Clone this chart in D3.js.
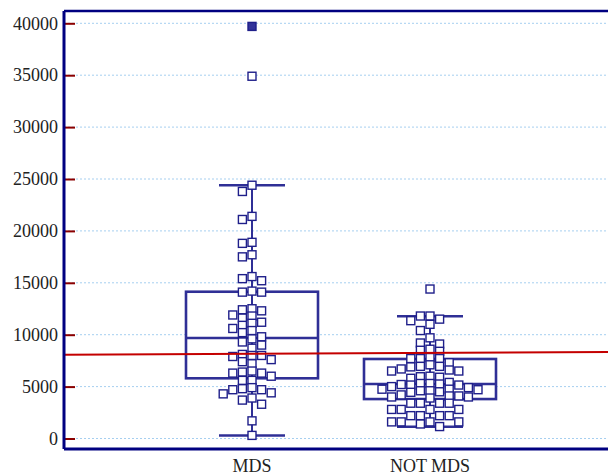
<!DOCTYPE html>
<html>
<head>
<meta charset="utf-8">
<script src="https://cdn.jsdelivr.net/npm/d3@7"></script>
<style>
  body { margin: 0; background: #fff; }
</style>
</head>
<body>
<div id="chart"></div>
<script>
// categories and values
var categories = ["MDS", "NOT MDS"];

var mdsValues = [39700, 34900, 24400, 23800, 21400, 21100, 18900, 18800, 17700, 17500,
  15600, 15400, 15200, 14200, 14100, 14100, 12500, 12400, 12300, 11900, 11800, 11600,
  11200, 11100, 10900, 10600, 10400, 10200, 9800, 9600, 9300, 9000, 8700, 8100, 8000,
  8000, 7900, 7600, 7400, 7200, 6500, 6400, 6300, 6300, 6000, 5600, 5600, 4900, 4800,
  4700, 4700, 4400, 4300, 3900, 3700, 3300, 1700, 300];

var notMdsValues = [14400, 11800, 11800, 11500, 11350, 11000, 10400, 9700, 9200, 9100,
  8600, 8500, 8400, 7800, 7700, 7700, 7700, 7300, 7100, 6950, 6950, 6900, 6700, 6600,
  6500, 6500, 6000, 5950, 5900, 5800, 5400, 5300, 5300, 5250, 5200, 5150, 5150, 5000,
  4900, 4750, 4750, 4700, 4600, 4600, 4500, 4450, 4200, 4100, 4100, 4000, 4000, 3900,
  3400, 3400, 3400, 3400, 2800, 2800, 2800, 2800, 2200, 2200, 2200, 2200, 1600, 1600,
  1600, 1600, 1400, 1150];

// box statistics: [low whisker, Q1, median, Q3, high whisker]
var mdsBox = [300, 5800, 9680, 14140, 24400];
var notMdsBox = [1140, 3800, 5250, 7660, 11770];

// reference line value at left and right edge
var refLine = [8060, 8340];

var yTicks = [0, 5000, 10000, 15000, 20000, 25000, 30000, 35000, 40000];

var series = [
  {name: categories[0], values: mdsValues, box: mdsBox},
  {name: categories[1], values: notMdsValues, box: notMdsBox}
];

// dimensions
var width = 608, height = 476;
var plotLeft = 64, plotRight = 608, plotTop = 11, plotBottom = 449;
var serif = "'Liberation Serif', 'Times New Roman', Times, 'DejaVu Serif', serif";

var svg = d3.select("#chart")
  .append("svg")
    .attr("width", width)
    .attr("height", height)
    .attr("font-family", serif);

var y = d3.scaleLinear()
  .domain([0, 40000])
  .range([438.5, 23.3]);

var x = d3.scalePoint()
  .domain(categories)
  .range([252, 430]);

var boxWidth = 132, capWidth = 66, sq = 8;
var blue = "#2f2f96";

// grid lines
svg.append("g")
  .selectAll("line")
  .data(yTicks)
  .enter()
  .append("line")
    .attr("x1", plotLeft)
    .attr("x2", plotRight)
    .attr("y1", function (d) { return y(d); })
    .attr("y2", function (d) { return y(d); })
    .style("stroke", "#a6cff0")
    .style("stroke-width", 1)
    .style("stroke-dasharray", "2,2");

// boxes and whiskers
var groups = svg.selectAll(".cat")
  .data(series)
  .enter()
  .append("g")
    .attr("class", "cat")
    .attr("transform", function (d) { return "translate(" + x(d.name) + ",0)"; });

groups.append("rect")
  .attr("x", -boxWidth / 2)
  .attr("width", boxWidth)
  .attr("y", function (d) { return y(d.box[3]); })
  .attr("height", function (d) { return y(d.box[1]) - y(d.box[3]); })
  .style("fill", "white")
  .style("stroke", blue)
  .style("stroke-width", 2.6);

groups.append("line")
  .attr("x1", -boxWidth / 2).attr("x2", boxWidth / 2)
  .attr("y1", function (d) { return y(d.box[2]); })
  .attr("y2", function (d) { return y(d.box[2]); })
  .style("stroke", blue)
  .style("stroke-width", 2.6);

// whisker stem through the whole range
groups.append("line")
  .attr("x1", 0).attr("x2", 0)
  .attr("y1", function (d) { return y(d.box[4]); })
  .attr("y2", function (d) { return y(d.box[0]); })
  .style("stroke", blue)
  .style("stroke-width", 2);

groups.selectAll(".cap")
  .data(function (d) { return [d.box[0], d.box[4]]; })
  .enter()
  .append("line")
    .attr("x1", -capWidth / 2).attr("x2", capWidth / 2)
    .attr("y1", function (d) { return y(d); })
    .attr("y2", function (d) { return y(d); })
    .style("stroke", blue)
    .style("stroke-width", 2.5);

// simple beeswarm so squares don't sit right on top of each other
function swarm(values) {
  var placed = [];
  values.slice().sort(function (a, b) { return b - a; }).forEach(function (v) {
    var py = y(v), off = 0;
    for (var k = 0; k < 60; k++) {
      var cand = k === 0 ? 0 : (k % 2 ? -1 : 1) * Math.ceil(k / 2) * 4.8;
      var ok = placed.every(function (q) {
        return Math.abs(q.y - py) >= 6.5 || Math.abs(q.x - cand) >= 9.4;
      });
      if (ok) { off = cand; break; }
    }
    placed.push({v: v, x: off, y: py});
  });
  return placed;
}

groups.each(function (d) {
  var iqr = d.box[3] - d.box[1];
  d3.select(this).selectAll(".pt")
    .data(swarm(d.values))
    .enter()
    .append("rect")
      .attr("class", "pt")
      .attr("x", function (p) { return p.x - sq / 2; })
      .attr("y", function (p) { return p.y - sq / 2; })
      .attr("width", sq)
      .attr("height", sq)
      .style("fill", function (p) { return p.v > d.box[3] + 3 * iqr ? "#33339a" : "white"; })
      .style("stroke", "#1f1f8a")
      .style("stroke-width", 1.4);
});

// red reference line
svg.append("line")
  .attr("x1", plotLeft).attr("x2", plotRight)
  .attr("y1", y(refLine[0]))
  .attr("y2", y(refLine[1]))
  .style("stroke", "#c40000")
  .style("stroke-width", 2);

// Y axis with inward red ticks
var yAxis = svg.append("g")
  .attr("transform", "translate(" + plotLeft + ",0)")
  .call(d3.axisLeft(y).tickValues(yTicks).tickSize(-11).tickPadding(6).tickFormat(d3.format("d")));
yAxis.attr("font-family", serif).attr("font-size", 18);
yAxis.select(".domain").remove();
yAxis.selectAll(".tick line").style("stroke", "#8b0000").style("stroke-width", 2);
yAxis.selectAll(".tick text").attr("fill", "#222");

// frame: left, bottom, top
svg.append("line")
  .attr("x1", plotLeft).attr("x2", plotLeft)
  .attr("y1", plotTop).attr("y2", plotBottom)
  .style("stroke", "#000080").style("stroke-width", 3);
svg.append("line")
  .attr("x1", plotLeft).attr("x2", plotRight)
  .attr("y1", plotBottom).attr("y2", plotBottom)
  .style("stroke", "#000080").style("stroke-width", 3);
svg.append("line")
  .attr("x1", plotLeft).attr("x2", plotRight)
  .attr("y1", plotTop).attr("y2", plotTop)
  .style("stroke", "#000080").style("stroke-width", 2.5);

// category labels
svg.append("g")
  .selectAll("text")
  .data(categories)
  .enter()
  .append("text")
    .attr("x", function (d) { return x(d); })
    .attr("y", 472)
    .attr("text-anchor", "middle")
    .attr("font-size", 18)
    .attr("fill", "#222")
    .text(function (d) { return d; });
</script>
</body>
</html>
